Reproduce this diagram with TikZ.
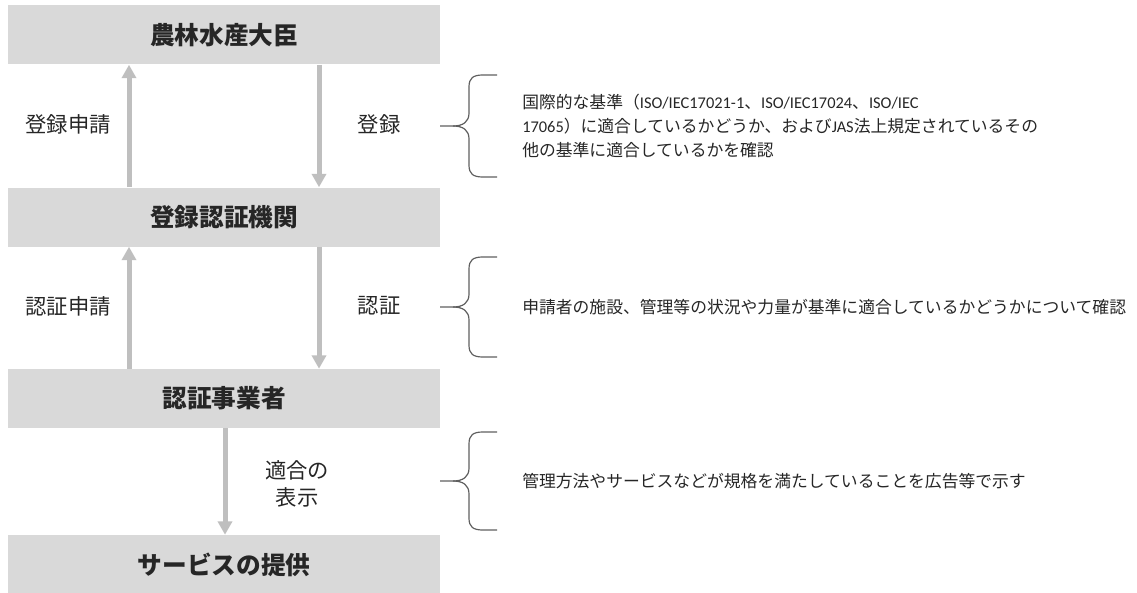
\documentclass[tikz,border=0pt]{standalone}
\usepackage{fontspec}
\setmainfont{Noto Sans CJK JP}
\newfontfamily\latfont{Carlito}
\usetikzlibrary{arrows.meta}
\definecolor{boxgray}{HTML}{D9D9D9}
\definecolor{arrgray}{HTML}{BFBFBF}
\definecolor{txt}{HTML}{262626}
\definecolor{bracecol}{HTML}{5F5F5F}
\begin{document}
\begin{tikzpicture}[x=0.75pt,y=-0.75pt,
  box/.style={fill=boxgray, draw=none, minimum width=324pt, minimum height=44.25pt, inner sep=0pt,
    text=txt, font=\fontsize{18.5}{22}\selectfont\bfseries},
  arr/.style={draw=arrgray, line width=3.75pt, -{Triangle[width=10.5pt,length=10pt]}},
  lbl/.style={inner sep=0pt, text=txt, font=\fontsize{16}{20}\selectfont, align=center},
  desc/.style={inner sep=0pt, anchor=west, text=txt, align=left, font=\fontsize{12.6}{18}\selectfont},
  lat/.style={},
  bracestyle/.style={draw=bracecol, line width=0.9pt}]
\useasboundingbox (0,0) rectangle (1137,592);
% boxes
\node[box] (b1) at (224,35) {農林水産大臣};
\node[box] (b2) at (224,217) {登録認証機関};
\node[box] (b3) at (224,398.5) {認証事業者};
\node[box] (b4) at (224,564.5) {サービスの提供};
% arrow columns
\coordinate (cl) at (129,0);
\coordinate (cr) at (319,0);
\coordinate (cm) at (225,0);
\draw[arr] (b2.north -| cl) -- (b1.south -| cl);
\draw[arr] (b1.south -| cr) -- (b2.north -| cr);
\draw[arr] (b3.north -| cl) -- (b2.south -| cl);
\draw[arr] (b2.south -| cr) -- (b3.north -| cr);
\draw[arr] (b3.south -| cm) -- (b4.north -| cm);
% labels
\node[lbl] (l1) at (68,124) {登録申請};
\node[lbl] (l2) at (379,124) {登録};
\node[lbl] (l3) at (68,306) {認証申請};
\node[lbl] (l4) at (379,306) {認証};
\node[lbl, font=\fontsize{16}{20.5}\selectfont] (l5) at (297,484) {適合の\\表示};
% braces
\foreach \t/\m/\b in {75/126/177, 257/307/357, 432/481/530} {
  \draw[bracestyle] (497,\t) -- (483,\t) .. controls (473,\t) and (469,\t+3) .. (469,\t+12)
     -- (469,\m-13) .. controls (469,\m-4) and (463,\m) .. (453,\m) -- (440,\m);
  \draw[bracestyle] (497,\b) -- (483,\b) .. controls (473,\b) and (469,\b-3) .. (469,\b-12)
     -- (469,\m+13) .. controls (469,\m+4) and (463,\m) .. (453,\m);
}
% descriptions
\node[desc] (d1) at (522,126) {国際的な基準（{\latfont\fontsize{12.3}{18}\selectfont ISO/IEC17021-1}、{\latfont\fontsize{12.3}{18}\selectfont ISO/IEC17024}、{\latfont\fontsize{12.3}{18}\selectfont ISO/IEC}\\{\latfont\fontsize{12.3}{18}\selectfont 17065}）に適合しているかどうか、および{\latfont\fontsize{12.3}{18}\selectfont JAS}法上規定されているその\\他の基準に適合しているかを確認};
\node[desc] (d2) at (522,307) {申請者の施設、管理等の状況や力量が基準に適合しているかどうかについて確認};
\node[desc] (d3) at (522,481) {管理方法やサービスなどが規格を満たしていることを広告等で示す};
\end{tikzpicture}
\end{document}
